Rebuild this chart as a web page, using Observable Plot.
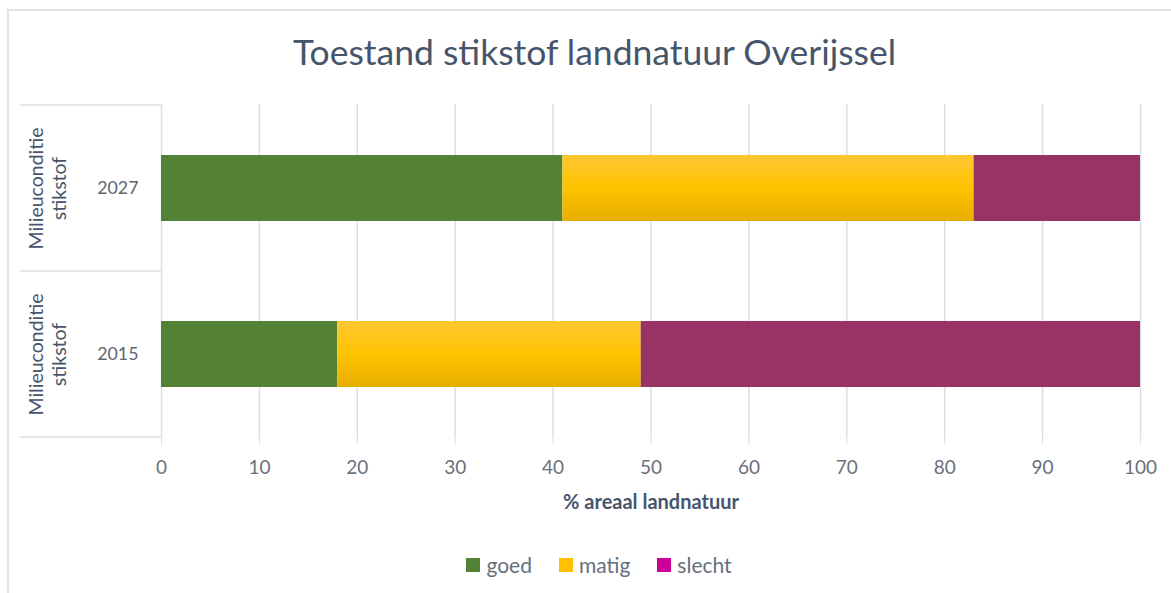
<!DOCTYPE html>
<html>
<head>
<meta charset="utf-8">
<script src="https://cdn.jsdelivr.net/npm/d3@7"></script>
<script src="https://cdn.jsdelivr.net/npm/@observablehq/plot@0.6"></script>
<style>
  html, body { margin: 0; padding: 0; background: #ffffff; }
  body { width: 1171px; height: 593px; overflow: hidden; position: relative; font-family: Lato, "Open Sans", sans-serif; }
  #frame { position: absolute; left: 7px; top: 9px; width: 1300px; height: 700px; border-top: 2px solid #dfe2e8; border-left: 2px solid #dfe2e8; pointer-events: none; }
  #title { height: 90px; box-sizing: border-box; padding-top: 31px; padding-left: 18px; text-align: center; font-size: 35.5px; line-height: 42px; color: #46556b; }
  #chart svg { display: block; }
  #legend { display: flex; justify-content: center; align-items: center; gap: 27px; margin-top: 32px; padding-left: 27px; font-size: 21px; color: #66707c; }
  .item { display: flex; align-items: center; gap: 6px; }
  .sw { width: 14px; height: 14px; display: inline-block; }
</style>
</head>
<body>
<div id="frame"></div>
<div id="title"></div>
<div id="chart"></div>
<div id="legend"></div>
<script>
// ---- data ----
const titleText = "Toestand stikstof landnatuur Overijssel";
const xLabel = "% areaal landnatuur";
const groupLabel = "Milieuconditie\nstikstof";
const years = ["2027", "2015"];
const categories = ["goed", "matig", "slecht"];
const goed = [41, 18];
const matig = [42, 31];
const slecht = [17, 51];
const xTicks = [0, 10, 20, 30, 40, 50, 60, 70, 80, 90, 100];
const barColors = ["#548235", "url(#matigGrad)", "#993366"];
const legendColors = ["#548235", "#ffc000", "#cc0099"];

// ---- table ----
const series = [goed, matig, slecht];
const rows = [];
years.forEach((y, i) => {
  categories.forEach((c, j) => rows.push({year: y, cat: c, value: series[j][i]}));
});

document.getElementById("title").textContent = titleText;

const plot = Plot.plot({
  width: 1171,
  height: 430,
  marginTop: 14,
  marginBottom: 83,
  marginLeft: 161,
  marginRight: 31,
  style: {fontFamily: "Lato, 'Open Sans', sans-serif", background: "transparent"},
  x: {domain: [0, 100], ticks: xTicks},
  y: {domain: years, paddingInner: 0.604, paddingOuter: 0.302},
  color: {type: "ordinal", domain: categories, range: barColors},
  marks: [
    Plot.gridX(xTicks, {stroke: "#dcdfe6", strokeOpacity: 1, strokeWidth: 1.5}),
    Plot.axisX({ticks: xTicks, tickSize: 8, tickPadding: 15, stroke: "#dcdfe6", fill: "#6b717b", fontSize: 19, label: null}),
    Plot.axisY({tickSize: 0, tickPadding: 23, fill: "#5f6670", fontSize: 17.8, label: null}),
    Plot.barX(rows, Plot.stackX({x: "value", y: "year", fill: "cat", order: categories})),
    Plot.text(years, {y: d => d, text: () => groupLabel, frameAnchor: "left", dx: -114, rotate: -90, fontSize: 19.5, fill: "#46556b", lineHeight: 1.15, textAnchor: "middle"}),
    Plot.text([xLabel], {text: d => d, frameAnchor: "bottom", dy: 71, fontSize: 20, fontWeight: "bold", fill: "#46556b"})
  ]
});

// gradient for "matig" bars
const svg = d3.select(plot);
const defs = svg.insert("defs", ":first-child");
const grad = defs.append("linearGradient").attr("id", "matigGrad").attr("x1", 0).attr("y1", 0).attr("x2", 0).attr("y2", 1);
grad.append("stop").attr("offset", "0%").attr("stop-color", "#fdc733");
grad.append("stop").attr("offset", "50%").attr("stop-color", "#ffc300");
grad.append("stop").attr("offset", "100%").attr("stop-color", "#e6ae00");

// category box lines of the two-level axis, from the library's scales
const ys = plot.scale("y");
const xs = plot.scale("x");
const x0 = xs.apply(0);
const bounds = [];
years.forEach((yr, i) => {
  const c = ys.apply(yr) + ys.bandwidth / 2;
  if (i === 0) bounds.push(c - ys.step / 2);
  bounds.push(c + ys.step / 2);
});
const g = svg.append("g").attr("stroke", "#dcdfe6").attr("stroke-width", 1.5);
bounds.forEach(b => g.append("line").attr("x1", 20).attr("x2", x0).attr("y1", b).attr("y2", b));

document.getElementById("chart").appendChild(plot);

// legend
const leg = document.getElementById("legend");
categories.forEach((c, i) => {
  const it = document.createElement("div");
  it.className = "item";
  const sw = document.createElement("span");
  sw.className = "sw";
  sw.style.background = legendColors[i];
  const t = document.createElement("span");
  t.textContent = c;
  it.appendChild(sw); it.appendChild(t);
  leg.appendChild(it);
});
</script>
</body>
</html>
